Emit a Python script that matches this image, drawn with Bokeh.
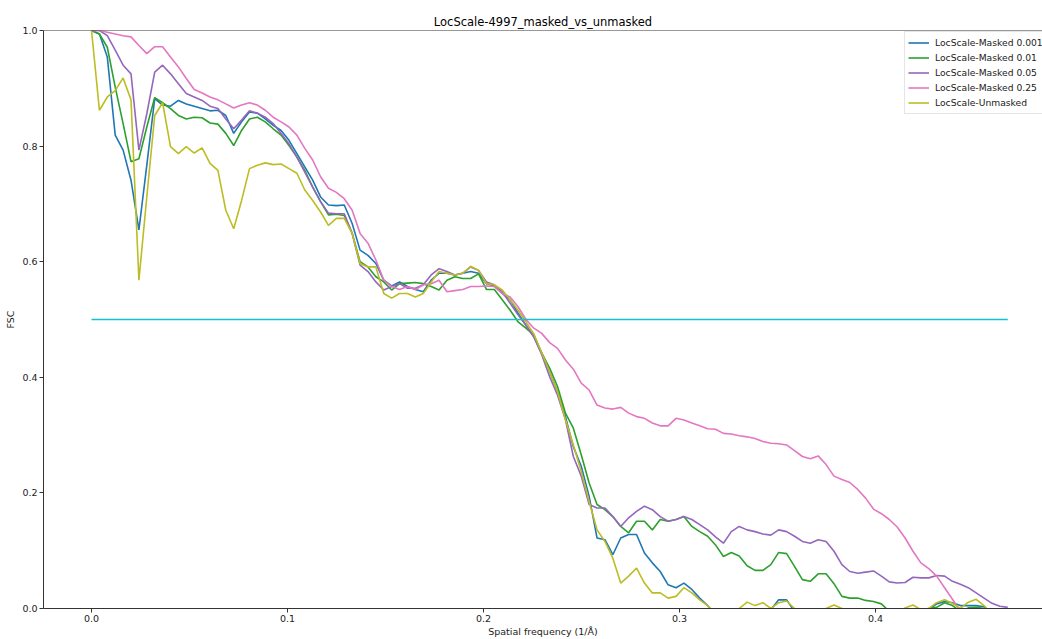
from bokeh.plotting import figure
from bokeh.models import Range1d, FixedTicker, PrintfTickFormatter, Legend, LegendItem, Span
from bokeh.embed import file_html
from bokeh.resources import INLINE

# ---------------- data ----------------
freq_step = 0.00403            # spacing of the Fourier shells (1/Å)
n_shells = 117
frequency = [round(i * freq_step, 5) for i in range(n_shells)]

threshold = 0.5

masked_0001 = [
    1.0, 0.994, 0.954, 0.819, 0.793, 0.741, 0.655, 0.767, 0.882, 0.871,
    0.869, 0.879, 0.873, 0.869, 0.865, 0.861, 0.862, 0.853, 0.822, 0.842,
    0.859, 0.857, 0.847, 0.836, 0.827, 0.810, 0.787, 0.764, 0.741, 0.712,
    0.698, 0.697, 0.698, 0.666, 0.620, 0.611, 0.597, 0.568, 0.558, 0.565,
    0.557, 0.552, 0.548, 0.568, 0.580, 0.580, 0.577, 0.580, 0.583, 0.580,
    0.562, 0.558, 0.545, 0.534, 0.511, 0.490, 0.470, 0.442, 0.410, 0.375,
    0.332, 0.280, 0.246, 0.194, 0.122, 0.119, 0.093, 0.122, 0.128, 0.128,
    0.096, 0.079, 0.064, 0.041, 0.036, 0.044, 0.033, 0.018, 0.005, -0.010,
    -0.020, -0.025, -0.020, -0.015, -0.010, -0.008, -0.002, 0.015, 0.015, -0.005,
    -0.020, -0.030, -0.030, -0.025, -0.020, -0.020, -0.025, -0.030, -0.030, -0.025,
    -0.020, -0.020, -0.015, -0.010, -0.008, -0.005, -0.002, 0.008, 0.012, 0.010,
    0.005, 0.005, 0.005, 0.003, -0.010, -0.020, -0.030,
]

masked_001 = [
    1.0, 0.994, 0.971, 0.902, 0.839, 0.773, 0.778, 0.833, 0.884, 0.875,
    0.865, 0.853, 0.847, 0.850, 0.849, 0.840, 0.838, 0.822, 0.801, 0.827,
    0.847, 0.850, 0.842, 0.830, 0.819, 0.801, 0.781, 0.758, 0.729, 0.704,
    0.681, 0.682, 0.680, 0.649, 0.600, 0.591, 0.574, 0.565, 0.551, 0.562,
    0.563, 0.564, 0.562, 0.557, 0.551, 0.568, 0.574, 0.571, 0.571, 0.579,
    0.552, 0.552, 0.534, 0.516, 0.496, 0.485, 0.473, 0.442, 0.416, 0.384,
    0.338, 0.312, 0.266, 0.217, 0.180, 0.171, 0.159, 0.142, 0.131, 0.151,
    0.151, 0.136, 0.154, 0.151, 0.154, 0.159, 0.142, 0.133, 0.125, 0.110,
    0.090, 0.097, 0.091, 0.074, 0.066, 0.066, 0.076, 0.097, 0.095, 0.073,
    0.050, 0.047, 0.060, 0.060, 0.043, 0.021, 0.018, 0.018, 0.014, 0.012,
    0.008, -0.005, -0.020, -0.020, -0.015, -0.002, 0.000, 0.002, 0.010, 0.005,
    -0.005, 0.001, 0.002, 0.000, -0.010, -0.020, -0.030,
]

masked_005 = [
    1.0, 1.0, 0.991, 0.966, 0.940, 0.925, 0.793, 0.856, 0.928, 0.940,
    0.925, 0.908, 0.891, 0.885, 0.879, 0.869, 0.865, 0.847, 0.830, 0.845,
    0.861, 0.857, 0.850, 0.839, 0.822, 0.804, 0.781, 0.755, 0.729, 0.704,
    0.684, 0.683, 0.683, 0.649, 0.594, 0.583, 0.565, 0.551, 0.557, 0.562,
    0.554, 0.554, 0.560, 0.577, 0.588, 0.583, 0.577, 0.580, 0.591, 0.585,
    0.565, 0.560, 0.548, 0.528, 0.508, 0.490, 0.470, 0.439, 0.401, 0.369,
    0.327, 0.263, 0.229, 0.180, 0.174, 0.174, 0.159, 0.142, 0.157, 0.168,
    0.177, 0.171, 0.159, 0.151, 0.154, 0.159, 0.154, 0.145, 0.136, 0.124,
    0.113, 0.133, 0.142, 0.136, 0.133, 0.129, 0.127, 0.136, 0.133, 0.125,
    0.116, 0.113, 0.119, 0.116, 0.099, 0.076, 0.064, 0.061, 0.063, 0.065,
    0.056, 0.046, 0.044, 0.045, 0.054, 0.053, 0.053, 0.057, 0.056, 0.047,
    0.042, 0.036, 0.027, 0.018, 0.009, 0.004, 0.002,
]

masked_025 = [
    1.0, 1.0, 0.997, 0.994, 0.991, 0.989, 0.974, 0.960, 0.972, 0.972,
    0.954, 0.937, 0.917, 0.898, 0.892, 0.885, 0.880, 0.873, 0.866, 0.871,
    0.875, 0.871, 0.862, 0.850, 0.842, 0.833, 0.819, 0.796, 0.776, 0.747,
    0.727, 0.720, 0.709, 0.689, 0.649, 0.632, 0.603, 0.568, 0.557, 0.552,
    0.557, 0.552, 0.560, 0.562, 0.568, 0.548, 0.550, 0.552, 0.557, 0.557,
    0.558, 0.557, 0.545, 0.539, 0.522, 0.500, 0.485, 0.476, 0.460, 0.450,
    0.430, 0.414, 0.390, 0.378, 0.352, 0.347, 0.345, 0.348, 0.338, 0.332,
    0.329, 0.321, 0.316, 0.316, 0.329, 0.326, 0.321, 0.316, 0.311, 0.310,
    0.303, 0.302, 0.299, 0.297, 0.294, 0.289, 0.286, 0.285, 0.283, 0.273,
    0.263, 0.259, 0.264, 0.249, 0.229, 0.223, 0.218, 0.206, 0.191, 0.172,
    0.164, 0.154, 0.141, 0.122, 0.099, 0.079, 0.069, 0.056, 0.036, 0.016,
    -0.005, -0.030, -0.050, -0.070, -0.090, -0.110, -0.130,
]

unmasked = [
    1.0, 0.862, 0.885, 0.896, 0.918, 0.880, 0.568, 0.712, 0.853, 0.875,
    0.799, 0.787, 0.799, 0.788, 0.797, 0.770, 0.758, 0.689, 0.657, 0.706,
    0.761, 0.767, 0.771, 0.768, 0.769, 0.761, 0.753, 0.724, 0.706, 0.686,
    0.663, 0.675, 0.675, 0.649, 0.597, 0.591, 0.591, 0.545, 0.537, 0.545,
    0.545, 0.539, 0.545, 0.565, 0.583, 0.580, 0.577, 0.580, 0.592, 0.585,
    0.562, 0.560, 0.551, 0.534, 0.516, 0.496, 0.475, 0.442, 0.410, 0.375,
    0.327, 0.283, 0.237, 0.185, 0.136, 0.116, 0.087, 0.044, 0.056, 0.070,
    0.044, 0.027, 0.027, 0.018, 0.021, 0.036, 0.027, 0.015, 0.005, -0.010,
    -0.020, -0.010, 0.000, 0.011, 0.005, 0.010, 0.000, 0.010, 0.013, 0.000,
    -0.010, -0.020, -0.010, 0.000, 0.006, 0.000, -0.010, -0.020, -0.020, -0.020,
    -0.020, -0.015, -0.010, 0.001, 0.006, -0.002, 0.000, 0.010, 0.015, 0.009,
    0.000, 0.011, 0.016, 0.005, -0.010, -0.020, -0.030,
]

series_labels = [
    "LocScale-Masked 0.001",
    "LocScale-Masked 0.01",
    "LocScale-Masked 0.05",
    "LocScale-Masked 0.25",
    "LocScale-Unmasked",
]
series_values = [masked_0001, masked_001, masked_005, masked_025, unmasked]
series_colors = ["#1f77b4", "#2ca02c", "#9467bd", "#e377c2", "#bcbd22"]

x_ticks = [0.0, 0.1, 0.2, 0.3, 0.4]
y_ticks = [0.0, 0.2, 0.4, 0.6, 0.8, 1.0]

# ---------------- figure ----------------
FONT = "DejaVu Sans"
AXIS_COLOR = "#333333"

p = figure(
    width=1042, height=639,
    x_range=Range1d(-0.0245, 0.4852),
    y_range=Range1d(0.0, 1.0),
    output_backend="svg", toolbar_location=None,
    min_border_left=43, min_border_right=0,
    min_border_top=30, min_border_bottom=30,
)
p.outline_line_color = None
p.background_fill_color = "white"
p.border_fill_color = "white"
p.xgrid.visible = False
p.ygrid.visible = False

p.title.text = "LocScale-4997_masked_vs_unmasked"
p.title.align = "center"
p.title.text_font = FONT
p.title.text_font_size = "11.5px"
p.title.text_font_style = "normal"
p.title.text_color = "black"
p.title.standoff = 4
p.title.offset = 7

for ax in (p.xaxis[0], p.yaxis[0]):
    ax.axis_line_color = AXIS_COLOR
    ax.major_tick_line_color = AXIS_COLOR
    ax.minor_tick_line_color = None
    ax.major_tick_in = 0
    ax.major_tick_out = 4
    ax.major_label_text_font = FONT
    ax.major_label_text_font_size = "9.5px"
    ax.major_label_text_color = "#222222"
    ax.axis_label_text_font = FONT
    ax.axis_label_text_font_size = "9.5px"
    ax.axis_label_text_font_style = "normal"
    ax.axis_label_text_color = "#222222"

p.xaxis.ticker = FixedTicker(ticks=x_ticks)
p.yaxis.ticker = FixedTicker(ticks=y_ticks)
p.xaxis.formatter = PrintfTickFormatter(format="%.1f")
p.yaxis.formatter = PrintfTickFormatter(format="%.1f")
p.xaxis.axis_label = "Spatial frequency (1/Å)"
p.yaxis.axis_label = "FSC"
p.xaxis.major_label_standoff = 2
p.xaxis.axis_label_standoff = 1
p.yaxis.major_label_standoff = 2
p.yaxis.axis_label_standoff = 3

# top spine
p.add_layout(Span(location=1.0, dimension="width", line_color=AXIS_COLOR, line_width=1))

items = []
for label, vals, col in zip(series_labels, series_values, series_colors):
    r = p.line(frequency, vals, line_color=col, line_width=1.6)
    items.append(LegendItem(label=label, renderers=[r]))

p.line([frequency[0], frequency[-1]], [threshold, threshold], line_color="#17becf", line_width=1.6)

legend = Legend(
    items=items,
    location=(861, 494),
    label_text_font=FONT,
    label_text_font_size="9.2px",
    label_text_color="#222222",
    glyph_width=21, glyph_height=15, label_height=15,
    label_standoff=6, spacing=0, padding=3, margin=0,
    border_line_color="#cccccc", border_line_width=1,
    background_fill_color="white", background_fill_alpha=0.85,
)
p.add_layout(legend)

open("out.html", "w").write(file_html(p, INLINE))
